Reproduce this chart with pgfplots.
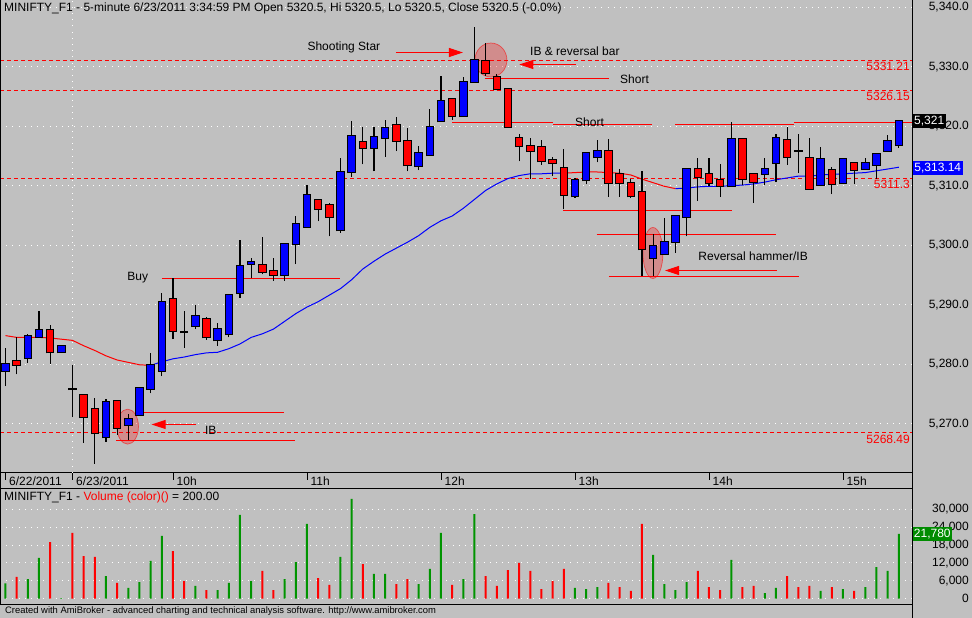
\documentclass[border=0pt]{standalone}
\usepackage{fontspec}
\setmainfont{Liberation Sans}
\usepackage{pgfplots}
\pgfplotsset{compat=1.18}
\usepackage{pgfplotstable}
\usetikzlibrary{arrows.meta}
\definecolor{bg}{RGB}{192,192,192}
\definecolor{cblue}{RGB}{0,0,255}
\definecolor{cred}{RGB}{255,0,0}
\definecolor{vgreen}{RGB}{0,148,0}
\definecolor{lgreen}{RGB}{0,140,0}
\newcommand\f{\fontsize{12}{14}\selectfont}
\tikzset{ann/.style={cred, line width=1pt}, lvl/.style={cred, line width=1pt, dash pattern=on 4pt off 3pt}}

\pgfplotstableread{
i O H L C V
0 5278.9 5282.7 5276.3 5280.1 5150
2 5281.0 5285.0 5280.2 5284.7 6600
3 5284.6 5289.0 5284.6 5285.8 13700
5 5282.0 5283.0 5282.0 5283.0 200
9 5267.7 5274.2 5267.0 5273.7 7600
11 5269.8 5271.7 5267.2 5270.8 3600
12 5271.4 5276.0 5271.4 5276.0 5600
13 5275.9 5281.8 5275.1 5279.9 12700
14 5278.9 5292.0 5278.0 5290.5 21100
17 5286.4 5289.9 5285.9 5288.1 4300
19 5284.0 5286.9 5283.1 5285.9 2900
20 5285.0 5291.6 5284.5 5291.6 5300
21 5292.0 5300.8 5291.2 5296.5 28100
22 5296.9 5297.8 5294.4 5297.2 5900
25 5295.0 5300.2 5294.0 5300.2 6600
26 5300.2 5304.9 5296.8 5303.6 12300
27 5303.1 5310.1 5303.1 5308.4 25100
30 5302.5 5314.6 5302.1 5312.3 14000
31 5312.3 5320.8 5311.5 5318.4 33500
33 5316.3 5319.8 5312.4 5318.2 8300
34 5318.0 5321.0 5314.9 5319.7 8300
37 5313.3 5316.7 5312.6 5315.5 4900
38 5315.1 5322.9 5315.1 5319.9 10000
39 5320.8 5328.5 5320.8 5324.3 22100
41 5321.7 5328.3 5321.7 5327.4 6600
42 5327.4 5336.7 5327.4 5331.1 28400
51 5308.2 5311.3 5308.0 5310.9 3600
52 5310.9 5315.5 5310.2 5315.5 3200
53 5314.8 5317.7 5313.9 5315.8 3900
58 5297.9 5301.8 5294.8 5299.8 14700
59 5298.5 5304.6 5298.5 5300.6 4900
60 5300.6 5304.9 5298.7 5304.9 2900
61 5304.7 5312.8 5301.5 5312.8 5600
65 5309.9 5320.7 5309.9 5317.9 13000
68 5312.0 5314.6 5310.1 5312.8 1900
69 5313.8 5318.7 5310.6 5318.0 3600
73 5310.1 5316.5 5310.1 5314.5 2600
75 5310.4 5314.7 5310.4 5314.5 3200
77 5312.8 5314.6 5312.8 5313.8 3900
78 5313.5 5315.3 5311.2 5315.3 10600
79 5315.9 5318.5 5315.9 5317.5 9300
80 5316.8 5320.9 5316.4 5320.9 21780
}\up

\pgfplotstableread{
i O H L C V
1 5280.5 5284.5 5278.3 5279.9 7300
4 5285.8 5286.6 5280.0 5282.0 19000
6 5275.8 5279.8 5271.1 5275.8 22100
7 5274.9 5274.9 5266.8 5271.1 14300
8 5272.5 5274.3 5263.3 5268.4 14000
10 5273.8 5273.8 5268.1 5269.3 5300
15 5291.0 5294.4 5284.2 5285.5 16000
16 5285.4 5289.0 5282.8 5285.4 5900
18 5287.6 5287.9 5284.1 5284.5 2900
23 5296.6 5301.3 5295.1 5295.5 9300
24 5295.7 5297.8 5294.0 5295.0 2900
28 5307.6 5307.6 5304.0 5306.1 6900
29 5306.8 5307.1 5301.5 5304.7 4600
32 5317.3 5319.8 5313.6 5316.3 11600
35 5320.2 5321.5 5315.8 5317.5 4900
36 5317.5 5319.7 5312.4 5313.4 6600
40 5324.6 5324.8 5321.1 5321.7 4600
43 5330.9 5334.0 5328.5 5328.9 7600
44 5328.3 5328.8 5326.0 5326.2 4300
45 5326.2 5326.2 5319.9 5319.9 9600
46 5318.0 5318.7 5314.1 5316.7 12000
47 5316.7 5318.0 5311.1 5315.8 9300
48 5316.5 5317.7 5313.5 5314.1 3200
49 5314.3 5314.8 5311.6 5313.8 5900
50 5312.9 5316.2 5306.0 5308.4 10000
54 5315.8 5317.9 5308.1 5310.5 5300
55 5312.0 5312.8 5308.1 5310.5 3900
56 5310.5 5311.1 5307.9 5308.2 2600
57 5309.0 5312.5 5294.9 5299.3 25100
62 5312.8 5314.6 5307.5 5311.5 9300
63 5312.0 5314.7 5310.0 5310.4 3900
64 5311.0 5313.7 5308.1 5310.0 2900
66 5317.9 5317.9 5310.1 5311.1 3900
67 5312.0 5312.0 5307.1 5310.7 4300
70 5317.7 5319.8 5313.5 5314.8 7600
71 5315.9 5318.7 5312.1 5315.9 3900
72 5314.7 5318.0 5309.5 5309.5 4300
74 5312.6 5313.1 5308.6 5310.3 3900
76 5313.8 5313.8 5310.2 5312.7 2600
}\dn

\pgfplotstableread{
i m
0 5284.8
1 5284.5
2 5284.5
3 5284.5
4 5284.4
5 5284.2
6 5284.0
7 5283.1
8 5282.3
9 5281.4
10 5280.7
11 5280.3
12 5279.9
13 5279.8
14 5280.4
15 5280.9
16 5281.2
17 5281.6
18 5281.9
19 5282.0
20 5282.6
21 5283.4
22 5284.5
23 5285.1
24 5285.9
25 5287.2
26 5288.5
27 5289.6
28 5290.5
29 5291.6
30 5292.7
31 5294.2
32 5296.0
33 5297.3
34 5298.5
35 5299.5
36 5300.5
37 5301.6
38 5303.0
39 5304.1
40 5304.9
41 5306.2
42 5307.7
43 5309.2
44 5310.3
45 5311.2
46 5311.7
47 5312.0
48 5312.0
49 5312.1
50 5312.1
51 5312.2
52 5312.3
53 5312.3
54 5312.2
55 5312.1
56 5311.8
57 5311.1
58 5310.5
59 5309.9
60 5309.5
61 5309.6
62 5309.8
63 5309.9
64 5309.9
65 5310.0
66 5310.1
67 5310.3
68 5310.6
69 5311.0
70 5311.3
71 5311.6
72 5311.6
73 5311.8
74 5311.9
75 5312.0
76 5312.1
77 5312.2
78 5312.5
79 5312.8
80 5313.1
}\ma

\begin{document}
\begin{tikzpicture}
\fill[bg] (0pt,0pt) rectangle (972pt,618pt);
\begin{axis}[
  at={(0pt,145.3pt)}, anchor=south west, scale only axis,
  width=912pt, height=472.7pt,
  xmin=-0.4925, xmax=81.18, ymin=5261.76, ymax=5341.21,
  clip mode=individual,
  axis line style={black, line width=1pt},
  xtick={0,6,15,27,39,51,63,75},
  xticklabels={6/22/2011,6/23/2011,10h,11h,12h,13h,14h,15h},
  xtick pos=left, xticklabel pos=left,
  tick align=outside, major tick length=7pt,
  xtick style={black, line width=0.8pt},
  xticklabel style={anchor=north west, inner sep=0pt, xshift=3.5pt, yshift=3.5pt},
  ytick={5270,5280,...,5340},
  ytick pos=right, yticklabel pos=right,
  ytick style={draw=none},
  yticklabel style={anchor=east, inner sep=0pt, xshift=50pt},
  ymajorgrids,
  grid style={white, line width=0.9pt, dash pattern=on 0.9pt off 5.3pt},
  tick label style={font=\f},
  /pgf/number format/assume math mode=true,
  yticklabel={\pgfmathprintnumber[fixed, fixed zerofill, precision=1, 1000 sep={,}]{\tick}},
]
% day separator
\draw[white, line width=0.9pt, dash pattern=on 0.9pt off 5.3pt] (axis cs:6,5261.76) -- (axis cs:6,5341.21);
% dashed levels
\draw[lvl] (axis cs:-0.49,5331.041) -- (axis cs:81.18,5331.041);
\draw[lvl] (axis cs:-0.49,5325.999) -- (axis cs:81.18,5325.999);
\draw[lvl] (axis cs:-0.49,5311.208) -- (axis cs:81.18,5311.208);
\draw[lvl] (axis cs:-0.49,5268.516) -- (axis cs:81.18,5268.516);
\node[cred, font=\f, anchor=north east, inner sep=0pt, xshift=-2pt, yshift=-2pt] at (axis cs:81.18,5331.1) {5331.21};
\node[cred, font=\f, anchor=north east, inner sep=0pt, xshift=-2pt, yshift=-2pt] at (axis cs:81.18,5326.05) {5326.15};
\node[cred, font=\f, anchor=north east, inner sep=0pt, xshift=-2pt, yshift=-2pt] at (axis cs:81.18,5311.3) {5311.3};
\node[cred, font=\f, anchor=north east, inner sep=0pt, xshift=-2pt, yshift=-2pt] at (axis cs:81.18,5268.49) {5268.49};
% ellipses
\draw[cred, draw opacity=0.55, fill=cred, fill opacity=0.27, line width=0.7pt] (axis cs:10.94,5269.5) ellipse [x radius=10.8pt, y radius=17.5pt];
\draw[cred, draw opacity=0.55, fill=cred, fill opacity=0.27, line width=0.7pt] (axis cs:43.47,5331.12) ellipse [x radius=16pt, y radius=17pt];
\draw[cred, draw opacity=0.55, fill=cred, fill opacity=0.27, line width=0.7pt] (axis cs:57.98,5298.69) ellipse [x radius=10pt, y radius=25.5pt];
% annotation lines
\draw[ann] (axis cs:14.0,5294.400) -- (axis cs:29.95,5294.400);
\draw[ann] (axis cs:11.75,5271.878) -- (axis cs:24.9,5271.878);
\draw[ann] (axis cs:9.9,5267.172) -- (axis cs:25.9,5267.172);
\draw[ann, -{Triangle[length=14pt,width=9pt]}] (axis cs:17.06,5269.861) -- (axis cs:13.09,5269.861);
\draw[ann, -{Triangle[length=14pt,width=9pt]}] (axis cs:34.97,5332.386) -- (axis cs:40.97,5332.386);
\draw[ann, -{Triangle[length=14pt,width=9pt]}] (axis cs:51.06,5330.369) -- (axis cs:46.01,5330.369);
\draw[ann] (axis cs:42.94,5328.016) -- (axis cs:54.04,5328.016);
\draw[ann] (axis cs:40.0,5320.620) -- (axis cs:49.05,5320.620);
\draw[ann] (axis cs:49.05,5320.284) -- (axis cs:57.92,5320.284);
\draw[ann] (axis cs:60.0,5320.284) -- (axis cs:70.6,5320.284);
\draw[ann] (axis cs:70.6,5320.621) -- (axis cs:81.18,5320.621);
\draw[ann] (axis cs:49.95,5305.830) -- (axis cs:65.03,5305.830);
\draw[ann] (axis cs:52.94,5301.796) -- (axis cs:68.97,5301.796);
\draw[ann] (axis cs:54.04,5294.737) -- (axis cs:71.06,5294.737);
\draw[ann, -{Triangle[length=14pt,width=9pt]}] (axis cs:69.05,5295.745) -- (axis cs:59.06,5295.745);
% annotation texts
\node[font=\f, anchor=east, inner sep=0pt] at (axis cs:12.79,5294.6) {Buy};
\node[font=\f, anchor=west, inner sep=0pt] at (axis cs:17.86,5268.9) {IB};
\node[font=\f, anchor=west, inner sep=0pt] at (axis cs:27.03,5333.26) {Shooting Star};
\node[font=\f, anchor=west, inner sep=0pt] at (axis cs:46.97,5332.64) {IB \& reversal bar};
\node[font=\f, anchor=west, inner sep=0pt] at (axis cs:55.03,5327.93) {Short};
\node[font=\f, anchor=west, inner sep=0pt] at (axis cs:51.0,5320.65) {Short};
\node[font=\f, anchor=west, inner sep=0pt] at (axis cs:62.04,5298.18) {Reversal hammer/IB};
% moving average
\addplot[cred, line width=1pt, restrict x to domain=0:13] table[x=i,y=m] {\ma};
\addplot[cblue, line width=1pt, restrict x to domain=13:50] table[x=i,y=m] {\ma};
\addplot[cred, line width=1pt, restrict x to domain=50:60] table[x=i,y=m] {\ma};
\addplot[cblue, line width=1pt, restrict x to domain=60:80] table[x=i,y=m] {\ma};
% wicks
\addplot[draw=none, mark=none, error bars/.cd, y dir=plus, y explicit, error mark=none,
  error bar style={draw=black, line width=1.1pt}]
  table[x=i, y=L, y error expr=\thisrow{H}-\thisrow{L}] {\up};
\addplot[draw=none, mark=none, error bars/.cd, y dir=plus, y explicit, error mark=none,
  error bar style={draw=black, line width=1.1pt}]
  table[x=i, y=L, y error expr=\thisrow{H}-\thisrow{L}] {\dn};
% bodies outline
\addplot[draw=none, mark=none, error bars/.cd, y dir=plus, y explicit, error mark=none,
  error bar style={draw=black, line width=8.6pt}]
  table[x=i, y expr=\thisrow{O}-0.17, y error expr=\thisrow{C}-\thisrow{O}+0.34] {\up};
\addplot[draw=none, mark=none, error bars/.cd, y dir=plus, y explicit, error mark=none,
  error bar style={draw=black, line width=8.6pt}]
  table[x=i, y expr=\thisrow{C}-0.17, y error expr=\thisrow{O}-\thisrow{C}+0.34] {\dn};
% bodies fill
\addplot[draw=none, mark=none, error bars/.cd, y dir=plus, y explicit, error mark=none,
  error bar style={draw=cblue, line width=6.4pt}]
  table[x=i, y=O, y error expr=\thisrow{C}-\thisrow{O}] {\up};
\addplot[draw=none, mark=none, error bars/.cd, y dir=plus, y explicit, error mark=none,
  error bar style={draw=cred, line width=6.4pt}]
  table[x=i, y=C, y error expr=\thisrow{O}-\thisrow{C}] {\dn};
% value boxes
\node[fill=black, text=white, font=\f, anchor=west, inner xsep=2pt, inner ysep=0pt, minimum height=14pt] at (axis cs:81.18,5320.9) {5,321};
\node[fill=cblue, text=white, font=\f, anchor=west, inner xsep=2.2pt, inner ysep=0pt, minimum height=13.5pt] at (axis cs:81.18,5312.95) {5,313.14};
\end{axis}

\begin{axis}[
  at={(0pt,13pt)}, anchor=south west, scale only axis,
  width=912pt, height=116pt,
  xmin=-0.4925, xmax=81.18, ymin=-2114, ymax=36812,
  clip mode=individual,
  axis line style={black, line width=1pt},
  xtick=\empty,
  ytick={0,6000,12000,18000,24000,30000},
  ytick pos=right, yticklabel pos=right,
  tick align=outside, major tick length=7pt,
  ytick style={draw=none},
  yticklabel style={anchor=east, inner sep=0pt, xshift=50pt},
  ymajorgrids,
  grid style={white, line width=0.9pt, dash pattern=on 0.9pt off 5.3pt},
  tick label style={font=\f},
  scaled y ticks=false,
  /pgf/number format/assume math mode=true,
  yticklabel={\pgfmathprintnumber[fixed, precision=0, 1000 sep={,}]{\tick}},
]
\addplot[ybar, bar width=2pt, bar shift=0pt, fill=vgreen, draw=none] table[x=i, y=V] {\up};
\addplot[ybar, bar width=2pt, bar shift=0pt, fill=cred, draw=none] table[x=i, y=V] {\dn};
\node[fill=lgreen, text=white, font=\f, anchor=west, inner xsep=1.7pt, inner ysep=0pt, minimum height=14pt] at (axis cs:81.18,21780) {21,780};
\end{axis}

\draw[black, line width=1pt] (912pt,0pt) -- (912pt,618pt);
\draw[black, line width=1pt] (0.5pt,13pt) -- (0.5pt,618pt);
\node[font=\f, anchor=west, inner sep=0pt] at (4pt,610pt) {MINIFTY\_F1 - 5-minute 6/23/2011 3:34:59 PM Open 5320.5, Hi 5320.5, Lo 5320.5, Close 5320.5 (-0.0\%)};
\node[font=\f, anchor=west, inner sep=0pt] at (4pt,120.7pt) {MINIFTY\_F1 - \textcolor{cred}{Volume (color)()} = 200.00};
\node[font=\fontsize{9.4}{11}\selectfont, anchor=west, inner sep=0pt] at (5pt,6.5pt) {Created with AmiBroker - advanced charting and technical analysis software. http://www.amibroker.com};
\pgfresetboundingbox
\path[use as bounding box] (0pt,0pt) rectangle (972pt,618pt);
\end{tikzpicture}
\end{document}
